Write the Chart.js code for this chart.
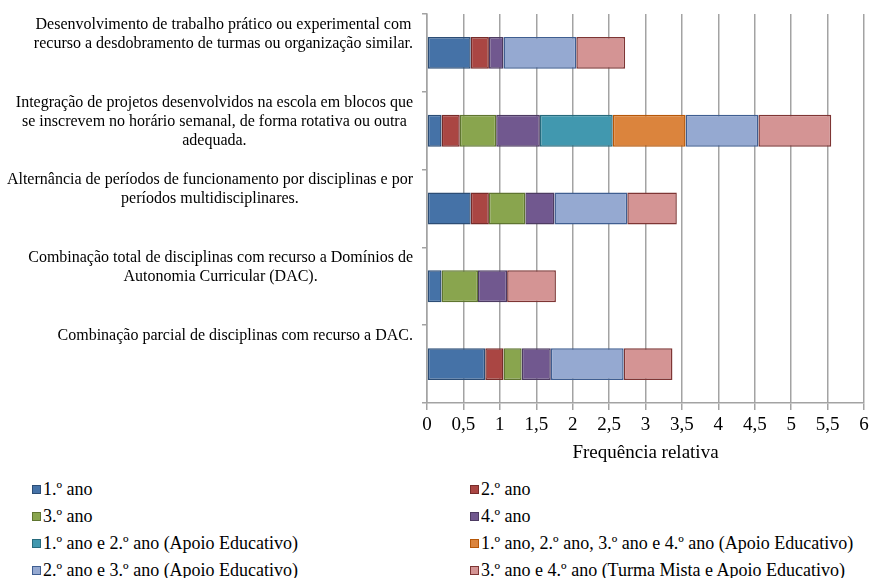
<!DOCTYPE html>
<html>
<head>
<meta charset="utf-8">
<script src="https://cdn.jsdelivr.net/npm/chart.js@4.4.1/dist/chart.umd.min.js"></script>
<style>
  html, body { margin: 0; padding: 0; background: #fff; }
  #wrap { position: relative; width: 870px; height: 578px; overflow: hidden; }
  #box { position: absolute; left: 0; top: 0; width: 870px; height: 470px; }
  #legend { position: absolute; left: 0; top: 470px; width: 870px; height: 108px;
            font-family: "Liberation Serif", serif; font-size: 18px; color: #000; }
  .item { position: absolute; white-space: nowrap; line-height: 20px; height: 20px; }
  .sw { display: inline-block; width: 7px; height: 7px; border: 1px solid; margin-right: 2px;
        vertical-align: 1px; }
</style>
</head>
<body>
<div id="wrap">
  <div id="box"><canvas id="chart"></canvas></div>
  <div id="legend"></div>
</div>
<script>
// Category labels, already broken into lines
const categories = [
  ["Desenvolvimento de trabalho prático ou experimental com",
   "recurso a desdobramento de turmas ou organização similar."],
  ["Integração de projetos desenvolvidos na escola em blocos que",
   "se inscrevem no horário semanal, de forma rotativa ou outra",
   "adequada."],
  ["Alternância de períodos de funcionamento por disciplinas e por",
   "períodos multidisciplinares."],
  ["Combinação total de disciplinas com recurso a Domínios de",
   "Autonomia Curricular (DAC)."],
  ["Combinação parcial de disciplinas com recurso a DAC."]
];

const seriesNames = [
  "1.º ano",
  "2.º ano",
  "3.º ano",
  "4.º ano",
  "1.º ano e 2.º ano (Apoio Educativo)",
  "1.º ano, 2.º ano, 3.º ano e 4.º ano (Apoio Educativo)",
  "2.º ano e 3.º ano (Apoio Educativo)",
  "3.º ano e 4.º ano (Turma Mista e Apoio Educativo)"
];

// Relative frequency per category (null = no segment)
const ano1    = [0.6,  0.2,  0.6,  0.2,  0.8];
const ano2    = [0.25, 0.25, 0.25, null, 0.25];
const ano3    = [null, 0.5,  0.5,  0.5,  0.25];
const ano4    = [0.2,  0.6,  0.4,  0.4,  0.4];
const ano1e2  = [null, 1.0,  null, null, null];
const ano1a4  = [null, 1.0,  null, null, null];
const ano2e3  = [1.0,  1.0,  1.0,  null, 1.0];
const ano3e4  = [0.67, 1.0,  0.68, 0.67, 0.67];

const xTicks = ["0", "0,5", "1", "1,5", "2", "2,5", "3", "3,5", "4", "4,5", "5", "5,5", "6"];
const axisTitle = "Frequência relativa";

const seriesValues = [ano1, ano2, ano3, ano4, ano1e2, ano1a4, ano2e3, ano3e4];
const fills   = ['#4572A7', '#AA4643', '#89A54E', '#71588F', '#4198AF', '#DB843D', '#95A9D1', '#D49494'];
const borders = ['#2C4D75', '#772C2A', '#5F7530', '#4D3B62', '#276A7C', '#B65708', '#3F5E91', '#7E3534'];

const serif = '"Liberation Serif", serif';
const gridGray = '#a3a3a3';

// Multi-line category labels: right-aligned block, lines centred inside it
const categoryLabels = {
  id: 'categoryLabels',
  afterDraw(chart) {
    const { ctx, chartArea, scales: { y } } = chart;
    const band = (chartArea.bottom - chartArea.top) / categories.length;
    ctx.save();
    ctx.font = '16px ' + serif;
    ctx.fillStyle = '#000';
    ctx.textAlign = 'center';
    ctx.textBaseline = 'middle';
    const right = chartArea.left - 14;
    categories.forEach((lines, i) => {
      const top = y.getPixelForValue(i) - band / 2;
      const w = Math.max(...lines.map(l => ctx.measureText(l).width));
      const cx = right - w / 2;
      lines.forEach((l, k) => ctx.fillText(l, cx, top + 10.5 + k * 19));
    });
    ctx.restore();
  }
};

const chart = new Chart(document.getElementById('chart'), {
  type: 'bar',
  data: {
    labels: categories.map(c => c.join(' ')),
    datasets: seriesNames.map((name, i) => ({
      label: name,
      data: seriesValues[i],
      backgroundColor: fills[i],
      borderColor: borders[i],
      borderWidth: 1.5,
      borderSkipped: false,
      categoryPercentage: 1,
      barPercentage: 0.41
    }))
  },
  options: {
    indexAxis: 'y',
    responsive: true,
    maintainAspectRatio: false,
    animation: false,
    layout: { padding: { top: 14, right: 6, left: 0, bottom: 0 } },
    plugins: {
      legend: { display: false },
      tooltip: { enabled: false }
    },
    scales: {
      x: {
        stacked: true,
        min: 0,
        max: 6,
        afterFit(scale) { scale.height = 67; scale.paddingLeft = 0; scale.paddingRight = 0; },
        ticks: {
          stepSize: 0.5,
          padding: 4,
          color: '#000',
          font: { family: serif, size: 19 },
          callback: (v, i) => xTicks[i]
        },
        grid: { color: gridGray, lineWidth: 1.5, tickLength: 7, tickColor: gridGray },
        border: { color: gridGray, width: 1.5 },
        title: {
          display: true,
          text: axisTitle,
          color: '#000',
          font: { family: serif, size: 19 },
          padding: { top: 0, bottom: 6 }
        }
      },
      y: {
        stacked: true,
        afterFit(scale) { scale.width = 427; },
        ticks: { display: false },
        grid: { offset: true, drawOnChartArea: false, drawTicks: true, tickLength: 5,
                color: gridGray, tickColor: gridGray, lineWidth: 1.5 },
        border: { color: gridGray, width: 1.5 }
      }
    }
  },
  plugins: [categoryLabels]
});

// Two-column legend below the chart
const legend = document.getElementById('legend');
const colX = [32, 470];
const rowY = [9, 36, 63, 90];
seriesNames.forEach((name, i) => {
  const el = document.createElement('div');
  el.className = 'item';
  el.style.left = colX[i % 2] + 'px';
  el.style.top = rowY[Math.floor(i / 2)] + 'px';
  const sw = document.createElement('span');
  sw.className = 'sw';
  sw.style.background = fills[i];
  sw.style.borderColor = borders[i];
  el.appendChild(sw);
  el.appendChild(document.createTextNode(name));
  legend.appendChild(el);
});
</script>
</body>
</html>
